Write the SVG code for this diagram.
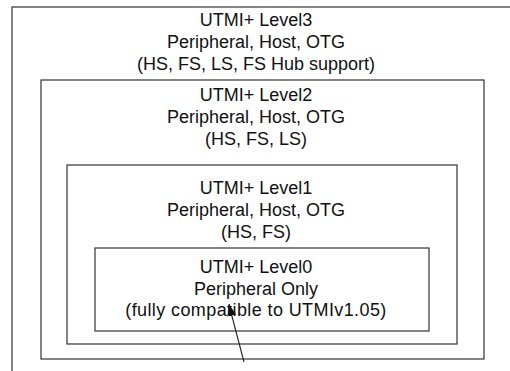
<svg xmlns="http://www.w3.org/2000/svg" width="510" height="371" viewBox="0 0 510 371">
  <defs>
    <style>
      .frame { fill: none; stroke: #333; stroke-width: 1.2; }
      .label { font-family: "Liberation Sans", Arial, sans-serif; font-size: 18px; fill: #111; text-anchor: middle; }
      .conn { fill: none; stroke: #222; stroke-width: 1.1; }
    </style>
    <marker id="arrowhead" viewBox="0 0 12 9" refX="11" refY="4.5" markerWidth="12" markerHeight="9" markerUnits="userSpaceOnUse" orient="auto">
      <path d="M0,0 L12,4.5 L0,9 Z" fill="#111"/>
    </marker>
  </defs>
  <rect width="510" height="371" fill="#fff"/>

  <!-- Level 3: outermost frame, runs off the right and bottom edges -->
  <g id="level3">
    <rect class="frame" x="12" y="7" width="530" height="400"/>
    <text class="label" x="256" y="26">UTMI+ Level3</text>
    <text class="label" x="256" y="48">Peripheral, Host, OTG</text>
    <text class="label" x="256" y="70">(HS, FS, LS, FS Hub support)</text>
  </g>

  <!-- Level 2 -->
  <g id="level2">
    <rect class="frame" x="41" y="80" width="443" height="279"/>
    <text class="label" x="256" y="101">UTMI+ Level2</text>
    <text class="label" x="256" y="123">Peripheral, Host, OTG</text>
    <text class="label" x="256" y="145">(HS, FS, LS)</text>
  </g>

  <!-- Level 1 -->
  <g id="level1">
    <rect class="frame" x="67" y="165" width="390" height="179"/>
    <text class="label" x="256" y="194">UTMI+ Level1</text>
    <text class="label" x="256" y="216">Peripheral, Host, OTG</text>
    <text class="label" x="256" y="238">(HS, FS)</text>
  </g>

  <!-- Level 0 -->
  <g id="level0">
    <rect class="frame" x="95" y="248" width="334" height="83"/>
    <text class="label" x="256" y="273">UTMI+ Level0</text>
    <text class="label" x="256" y="295">Peripheral Only</text>
    <text class="label" x="256" y="316" letter-spacing="0.4">(fully compatible to UTMIv1.05)</text>
  </g>

  <!-- pointer into the innermost level -->
  <g id="connectors">
    <line class="conn" x1="244" y1="362" x2="229" y2="305" marker-end="url(#arrowhead)"/>
  </g>
</svg>
